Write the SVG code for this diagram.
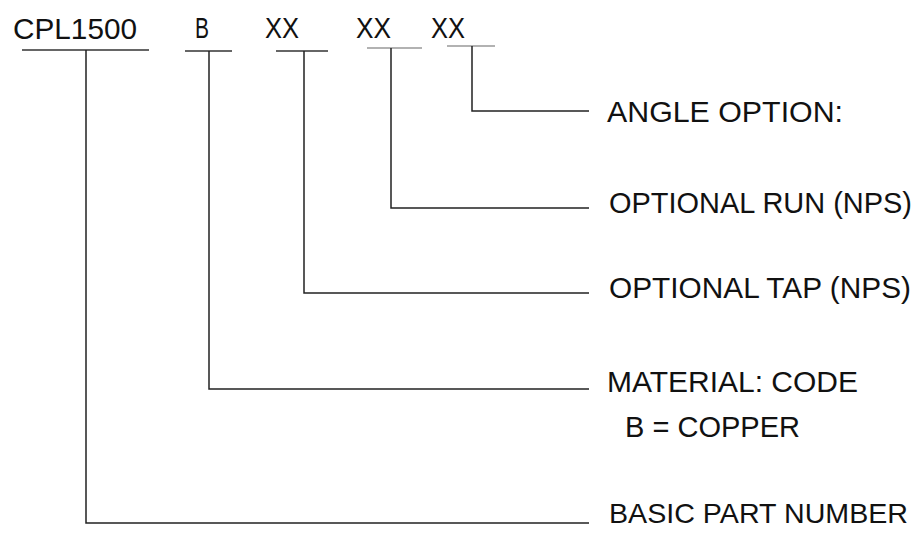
<svg xmlns="http://www.w3.org/2000/svg" width="919" height="534" viewBox="0 0 919 534">
<style>
text{font-family:"Liberation Sans",Arial,sans-serif;font-size:29px;fill:#111}
.sm{font-size:28.3px}
.ln{fill:none;stroke:#222;stroke-width:1.5}
.ul{stroke:#333;stroke-width:1.5}
.ulg{stroke:#999;stroke-width:1.5}
</style>
<rect width="919" height="534" fill="#fff"/>
<g id="code">
<text x="13" y="39" textLength="124" lengthAdjust="spacingAndGlyphs">CPL1500</text>
<text x="195" y="38" textLength="14" lengthAdjust="spacingAndGlyphs">B</text>
<text x="265" y="38" textLength="34" lengthAdjust="spacingAndGlyphs">XX</text>
<text x="356" y="38" textLength="35" lengthAdjust="spacingAndGlyphs">XX</text>
<text x="431" y="38" textLength="34" lengthAdjust="spacingAndGlyphs">XX</text>
<line class="ul" x1="22" y1="50" x2="149" y2="50"/>
<line class="ul" x1="185" y1="51" x2="232" y2="51"/>
<line class="ul" x1="276" y1="51" x2="328" y2="51"/>
<line class="ulg" x1="367" y1="48" x2="422" y2="48"/>
<line class="ulg" x1="447" y1="46" x2="495" y2="46"/>
</g>
<g id="connectors">
<polyline class="ln" points="472,46 472,111 589,111"/>
<polyline class="ln" points="391,48 391,208 589,208"/>
<polyline class="ln" points="304,51 304,293 589,293"/>
<polyline class="ln" points="209,51 209,389 589,389"/>
<polyline class="ln" points="86,50 86,523 589,523"/>
</g>
<g id="angle"><text x="607" y="122" textLength="236" lengthAdjust="spacingAndGlyphs">ANGLE OPTION:</text></g>
<g id="run"><text x="609" y="213" textLength="303" lengthAdjust="spacingAndGlyphs">OPTIONAL RUN (NPS)</text></g>
<g id="tap"><text x="609" y="298" textLength="302" lengthAdjust="spacingAndGlyphs">OPTIONAL TAP (NPS)</text></g>
<g id="material">
<text x="607" y="392" textLength="251" lengthAdjust="spacingAndGlyphs">MATERIAL: CODE</text>
<text x="625" y="437" textLength="175" lengthAdjust="spacingAndGlyphs">B = COPPER</text>
</g>
<g id="basic"><text class="sm" x="609" y="523" textLength="299" lengthAdjust="spacingAndGlyphs">BASIC PART NUMBER</text></g>
</svg>
